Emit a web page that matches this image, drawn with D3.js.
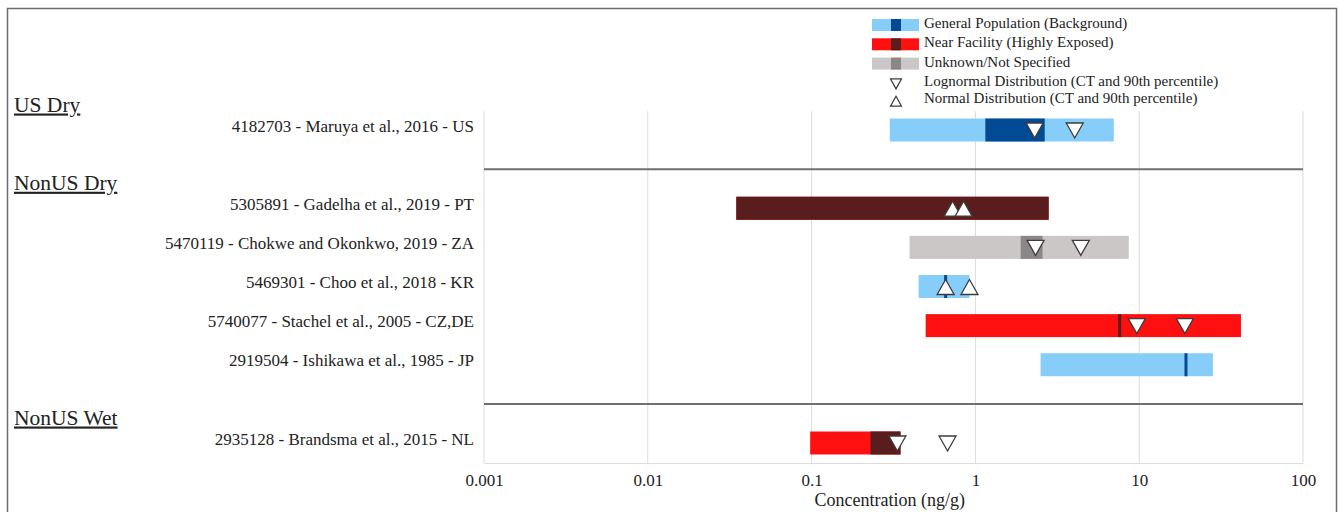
<!DOCTYPE html>
<html>
<head>
<meta charset="utf-8">
<script src="https://cdn.jsdelivr.net/npm/d3@7"></script>
<style>
  html, body { margin: 0; padding: 0; background: #fff; }
  svg { display: block; font-family: "Liberation Serif", "Times New Roman", serif; }
</style>
</head>
<body>
<svg id="chart" width="1339" height="512"></svg>
<script>
// Study rows (top to bottom)
const studies = [
  "4182703 - Maruya et al., 2016 - US",
  "5305891 - Gadelha et al., 2019 - PT",
  "5470119 - Chokwe and Okonkwo, 2019 - ZA",
  "5469301 - Choo et al., 2018 - KR",
  "5740077 - Stachel et al., 2005 - CZ,DE",
  "2919504 - Ishikawa et al., 1985 - JP",
  "2935128 - Brandsma et al., 2015 - NL"
];
// slot index of each study row (gaps hold group separators)
const rowSlot = [0, 2, 3, 4, 5, 6, 8];
const groups = ["US Dry", "NonUS Dry", "NonUS Wet"];
const groupFirstSlot = [0, 2, 8];
const separatorSlots = [1, 7];

// population type: gen = general population, fac = near facility, unk = unknown
const popType = ["gen", "fac", "unk", "gen", "fac", "gen", "fac"];
// full range (min, max), ng/g
const rangeMin = [0.30, 0.0347, 0.396, 0.45, 0.497, 2.50, 0.098];
const rangeMax = [7.0, 2.80, 8.64, 0.92, 41.8, 28.2, 0.349];
// central range (dark band), ng/g
const centralMin = [1.15, 0.0347, 1.89, 0.658, 7.6, 19.3, 0.229];
const centralMax = [2.65, 2.80, 2.57, 0.658, 7.6, 19.3, 0.349];
// distribution markers: CT and 90th percentile
const distType = ["log", "norm", "log", "norm", "log", null, "log"];
const ctValue = [2.30, 0.726, 2.33, 0.658, 9.67, null, 0.334];
const p90Value = [4.04, 0.847, 4.40, 0.92, 19.0, null, 0.676];

const xTicks = [0.001, 0.01, 0.1, 1, 10, 100];
const xTickLabels = ["0.001", "0.01", "0.1", "1", "10", "100"];

const legendLabels = [
  "General Population (Background)",
  "Near Facility (Highly Exposed)",
  "Unknown/Not Specified",
  "Lognormal Distribution (CT and 90th percentile)",
  "Normal Distribution (CT and 90th percentile)"
];

const colors = {
  gen: { light: "#87cdf9", dark: "#034a94" },
  fac: { light: "#fe1010", dark: "#5a1d1d" },
  unk: { light: "#cbc7c7", dark: "#8b8787" }
};

const svg = d3.select("#chart");

// outer frame
svg.append("rect")
  .attr("x", 7.5).attr("y", 8.5).attr("width", 1329).attr("height", 520)
  .attr("fill", "none").attr("stroke", "#6e6e6e").attr("stroke-width", 1.5);

const x = d3.scaleLog().domain([0.001, 100]).range([484, 1303]);
const y = d3.scaleLinear().domain([0, 8]).range([130, 443]);
const plotTop = 111, plotBottom = 463;
const barH = 23;

// vertical grid lines
svg.append("g").selectAll("line").data(xTicks).join("line")
  .attr("x1", d => x(d)).attr("x2", d => x(d))
  .attr("y1", plotTop).attr("y2", plotBottom)
  .attr("stroke", "#dcdcdc").attr("stroke-width", 1);

// x axis
const xAxis = d3.axisBottom(x).tickValues(xTicks)
  .tickFormat((d, i) => xTickLabels[i]).tickSize(0);
const gx = svg.append("g").attr("transform", `translate(0,${plotBottom})`).call(xAxis);
gx.select(".domain").attr("stroke", "#dcdcdc");
gx.selectAll("text").attr("font-family", "Liberation Serif, serif")
  .attr("font-size", 17).attr("fill", "#222")
  .attr("y", 23).attr("dy", null);

svg.append("text")
  .attr("x", x(0.3)).attr("y", 506)
  .attr("text-anchor", "middle").attr("font-size", 18).attr("fill", "#222")
  .text("Concentration (ng/g)");

// group separators
svg.append("g").selectAll("line").data(separatorSlots).join("line")
  .attr("x1", 484).attr("x2", 1303)
  .attr("y1", d => y(d)).attr("y2", d => y(d))
  .attr("stroke", "#707070").attr("stroke-width", 2);

// group headers
svg.append("g").selectAll("text").data(groups).join("text")
  .attr("x", 14).attr("y", (d, i) => y(groupFirstSlot[i]) - 18.5)
  .attr("font-size", 21.5).attr("fill", "#222")
  .attr("text-decoration", "underline")
  .text(d => d);

// study labels
svg.append("g").selectAll("text").data(studies).join("text")
  .attr("x", 474).attr("y", (d, i) => y(rowSlot[i]) + 1.5)
  .attr("text-anchor", "end").attr("font-size", 17).attr("fill", "#222")
  .text(d => d);

const idx = d3.range(studies.length);

// full range bars
svg.append("g").selectAll("rect").data(idx).join("rect")
  .attr("x", i => x(rangeMin[i]))
  .attr("width", i => x(rangeMax[i]) - x(rangeMin[i]))
  .attr("y", i => y(rowSlot[i]) - barH / 2).attr("height", barH)
  .attr("fill", i => colors[popType[i]].light);

// central range bands
svg.append("g").selectAll("rect").data(idx).join("rect")
  .attr("x", i => {
    const w = x(centralMax[i]) - x(centralMin[i]);
    return w < 2 ? x(centralMin[i]) - 1.5 : x(centralMin[i]);
  })
  .attr("width", i => Math.max(3, x(centralMax[i]) - x(centralMin[i])))
  .attr("y", i => y(rowSlot[i]) - barH / 2).attr("height", barH)
  .attr("fill", i => colors[popType[i]].dark);

// distribution markers
const triDown = (cx, cy, w, h) => `M${cx - w / 2},${cy - h / 2}L${cx + w / 2},${cy - h / 2}L${cx},${cy + h / 2}Z`;
const triUp = (cx, cy, w, h) => `M${cx - w / 2},${cy + h / 2}L${cx + w / 2},${cy + h / 2}L${cx},${cy - h / 2}Z`;
const markers = [];
idx.forEach(i => {
  if (!distType[i]) return;
  [ctValue[i], p90Value[i]].forEach(v => markers.push({ i, v, t: distType[i] }));
});
svg.append("g").selectAll("path").data(markers).join("path")
  .attr("d", m => (m.t === "log" ? triDown : triUp)(x(m.v), y(rowSlot[m.i]) + 0.5, 17, 15))
  .attr("fill", "#fff").attr("stroke", "#3c3c3c").attr("stroke-width", 1.3)
  .attr("stroke-linejoin", "miter");

// legend
const lg = svg.append("g");
const lgX = 872, lgY0 = 25, lgStep = 19.3, swW = 47, swH = 12;
["gen", "fac", "unk"].forEach((k, j) => {
  const cy = lgY0 + j * lgStep;
  lg.append("rect").attr("x", lgX).attr("y", cy - swH / 2).attr("width", swW).attr("height", swH)
    .attr("fill", colors[k].light);
  lg.append("rect").attr("x", lgX + 19).attr("y", cy - swH / 2).attr("width", 10).attr("height", swH)
    .attr("fill", colors[k].dark);
});
lg.append("path").attr("d", triDown(lgX + 24, lgY0 + 3 * lgStep + 1, 11, 10))
  .attr("fill", "#fff").attr("stroke", "#3c3c3c").attr("stroke-width", 1.2);
lg.append("path").attr("d", triUp(lgX + 24, lgY0 + 4 * lgStep - 1, 11, 10))
  .attr("fill", "#fff").attr("stroke", "#3c3c3c").attr("stroke-width", 1.2);
lg.selectAll("text.lg").data(legendLabels).join("text")
  .attr("class", "lg")
  .attr("x", lgX + 52).attr("y", (d, j) => lgY0 + j * lgStep + 3 - (j === 4 ? 2 : 0))
  .attr("font-size", 15).attr("fill", "#222")
  .text(d => d);
</script>
</body>
</html>
